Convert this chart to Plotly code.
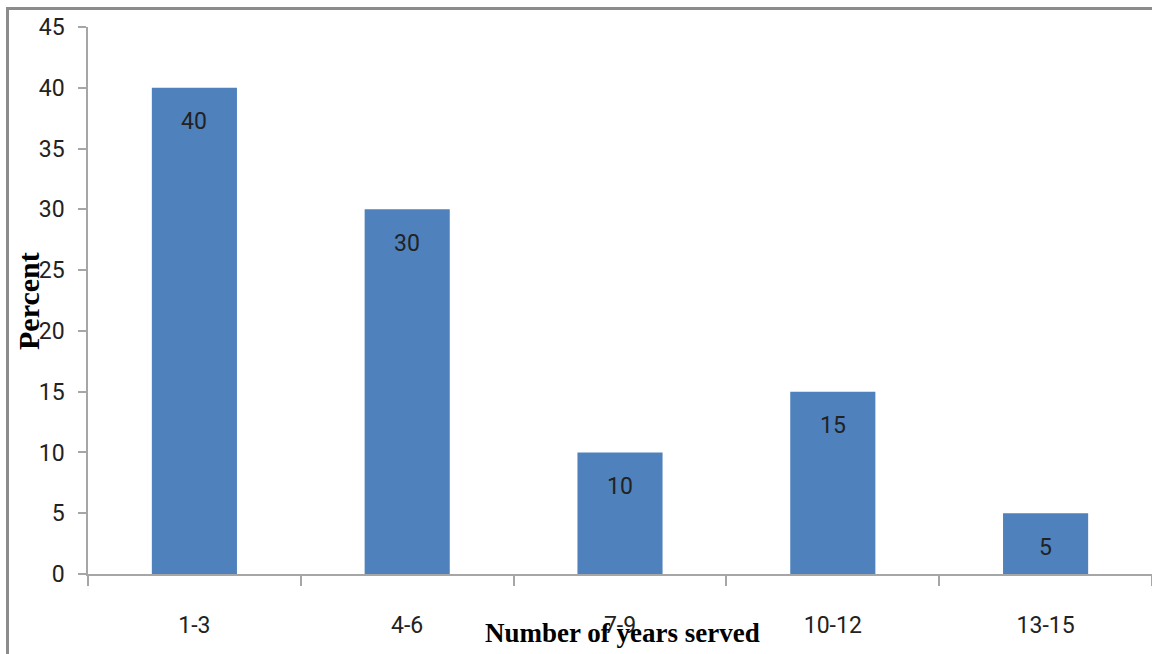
import plotly.graph_objects as go

# Years of service groups and share of respondents (%)
categories = ["1-3", "4-6", "7-9", "10-12", "13-15"]
percent = [40, 30, 10, 15, 5]
y_ticks = [0, 5, 10, 15, 20, 25, 30, 35, 40, 45]

bar_color = "#4F81BD"
axis_color = "#A6A6A6"
tick_font = dict(family="Liberation Sans Narrow, Roboto, sans-serif", size=23,
                 color="#222222")
xtitle_font = dict(family="Liberation Serif", size=27, color="#000000")
ytitle_font = dict(family="Liberation Serif", size=30, color="#000000")

W, H = 1152, 654
L, R, T, B = 88, 0, 27, 80
plot_w = W - L - R
plot_h = H - T - B

fig = go.Figure()
fig.add_trace(go.Bar(
    x=categories,
    y=percent,
    marker=dict(color=bar_color, line=dict(width=0)),
    width=0.4,
    hoverinfo="x+y",
))

# value labels just inside the top of each bar
for c, v in zip(categories, percent):
    fig.add_annotation(
        x=c, y=v, xref="x", yref="y",
        text=str(v), showarrow=False,
        yanchor="middle", yshift=-34,
        font=tick_font,
    )

# axis titles
fig.add_annotation(
    x=(622 - L) / plot_w, y=(H - B - 633) / plot_h, xref="paper", yref="paper",
    text="<b>Number of years served</b>", showarrow=False,
    xanchor="center", yanchor="middle", font=xtitle_font,
)
fig.add_annotation(
    x=(28 - L) / plot_w, y=(H - B - 301) / plot_h, xref="paper", yref="paper",
    text="<b>Percent</b>", showarrow=False, textangle=-90,
    xanchor="center", yanchor="middle", font=ytitle_font,
)

# outer chart frame
fig.add_shape(
    type="rect", xref="paper", yref="paper",
    x0=(7.5 - L) / plot_w, x1=1.2,
    y0=-0.3, y1=(H - B - 8.5) / plot_h,
    line=dict(color="#8C8C8C", width=3), fillcolor="rgba(0,0,0,0)",
    layer="above",
)

fig.update_layout(
    width=W, height=H,
    margin=dict(l=L, r=R, t=T, b=B, autoexpand=False),
    paper_bgcolor="white", plot_bgcolor="white",
    showlegend=False,
    xaxis=dict(
        type="category",
        range=[-0.5, 4.5],
        showline=True, linecolor=axis_color, linewidth=1.5,
        ticks="outside", tickson="boundaries", ticklen=10,
        tickcolor=axis_color, tickwidth=1.5,
        tickfont=tick_font, ticklabelstandoff=30,
        showgrid=False, zeroline=False,
    ),
    yaxis=dict(
        range=[0, 45],
        tickvals=y_ticks,
        showline=True, linecolor=axis_color, linewidth=1.5,
        ticks="outside", ticklen=8, tickcolor=axis_color, tickwidth=1.5,
        tickfont=tick_font, ticklabelstandoff=9,
        showgrid=False, zeroline=False,
    ),
)

fig.write_html("out.html")
